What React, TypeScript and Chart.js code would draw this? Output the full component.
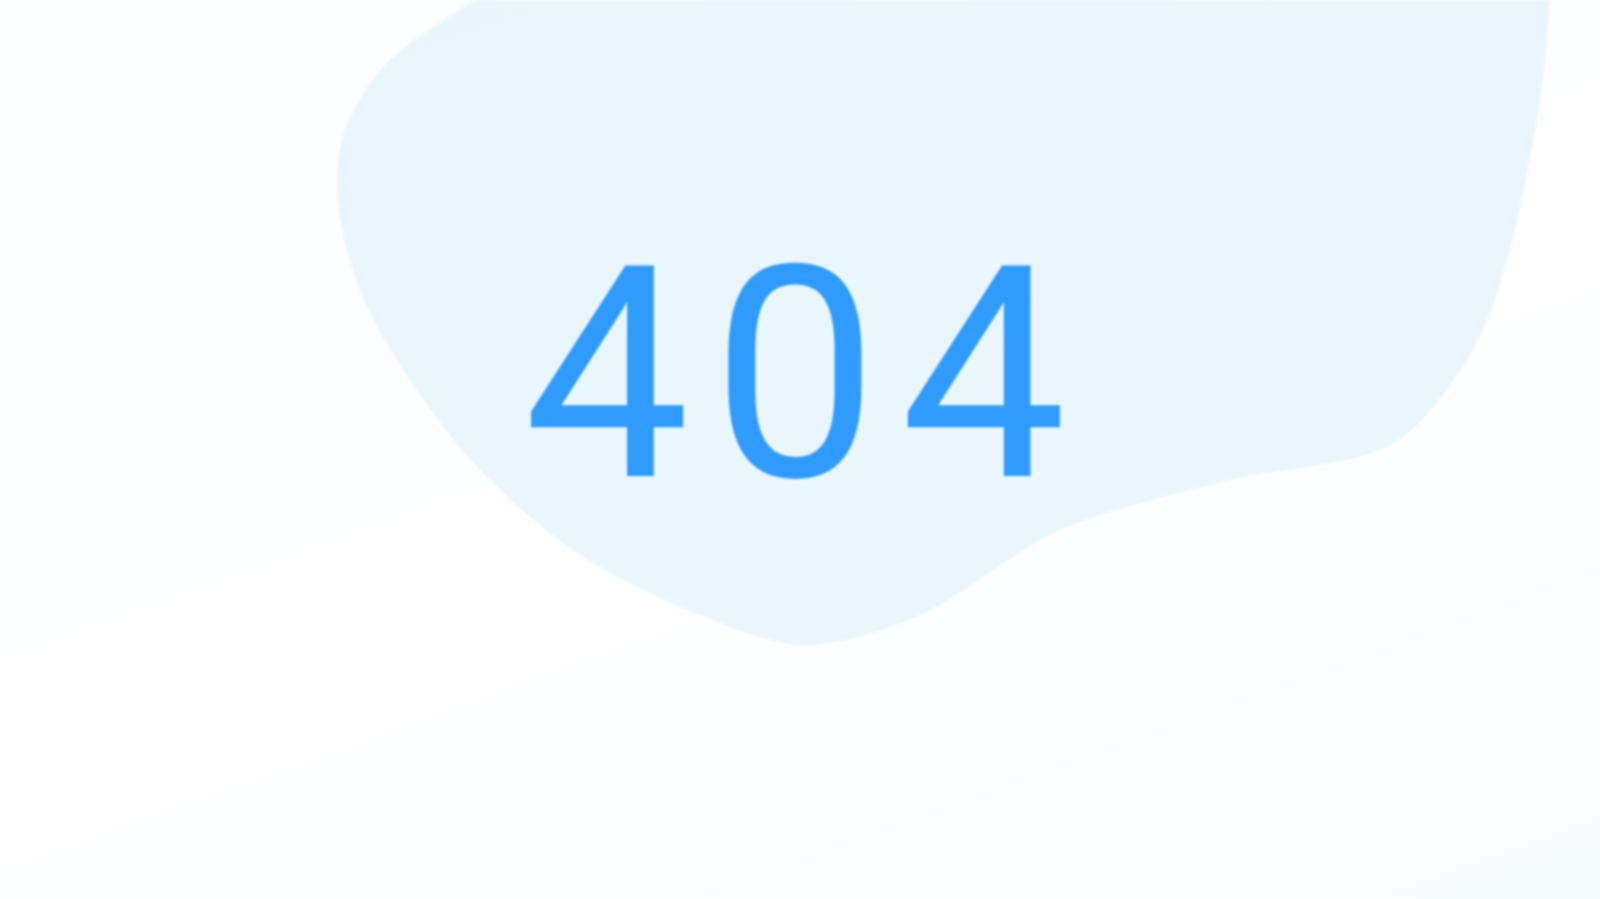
import React, { useEffect, useRef } from "react";
import { Chart, registerables } from "chart.js";

Chart.register(...registerables);

// outline of the pale blob behind the text (page pixels)
const blobX = [490, 390, 345, 338, 360, 410, 480, 580, 700, 805, 920, 1060, 1230, 1390, 1470, 1510, 1540, 1550, 1550, 490];
const blobY = [-10, 60, 130, 200, 290, 380, 470, 555, 615, 645, 615, 530, 480, 445, 355, 250, 100, 0, -10, -10];
const label = "404";

const textPlugin = {
  id: "bigText",
  afterDatasetsDraw(chart: Chart) {
    const { ctx } = chart;
    const xs = chart.scales.x;
    const ys = chart.scales.y;
    ctx.save();
    ctx.fillStyle = "#2e9bfd";
    ctx.font = "400 296px Roboto";
    (ctx as any).letterSpacing = "22px";
    ctx.textAlign = "center";
    ctx.textBaseline = "alphabetic";
    ctx.fillText(label, xs.getPixelForValue(806), ys.getPixelForValue(476));
    ctx.restore();
  },
};

const App: React.FC = () => {
  const ref = useRef<HTMLCanvasElement>(null);

  useEffect(() => {
    document.body.style.margin = "0";
    let chart: Chart | null = null;
    if (ref.current) {
      chart = new Chart(ref.current, {
        type: "scatter",
        data: {
          datasets: [
            {
              data: blobX.map((x, i) => ({ x, y: blobY[i] })),
              showLine: true,
              tension: 0.3,
              fill: "shape" as any,
              backgroundColor: "rgba(220,240,252,0.6)",
              borderColor: "rgba(0,0,0,0)",
              pointRadius: 0,
            },
          ],
        },
        options: {
          animation: false,
          responsive: false,
          layout: { padding: 0 },
          scales: {
            x: { type: "linear", min: 0, max: 1600, display: false },
            y: { type: "linear", min: 0, max: 899, reverse: true, display: false },
          },
          plugins: { legend: { display: false }, tooltip: { enabled: false } },
        },
        plugins: [textPlugin],
      });
    }
    return () => {
      if (chart) chart.destroy();
    };
  }, []);

  return (
    <div
      style={{
        width: 1600,
        height: 899,
        background: "linear-gradient(160deg, #fbfdfe 0%, #ffffff 55%, #f6fbfe 100%)",
      }}
    >
      <canvas ref={ref} width={1600} height={899} style={{ display: "block", filter: "blur(0.8px)" }}></canvas>
    </div>
  );
};

export default App;
